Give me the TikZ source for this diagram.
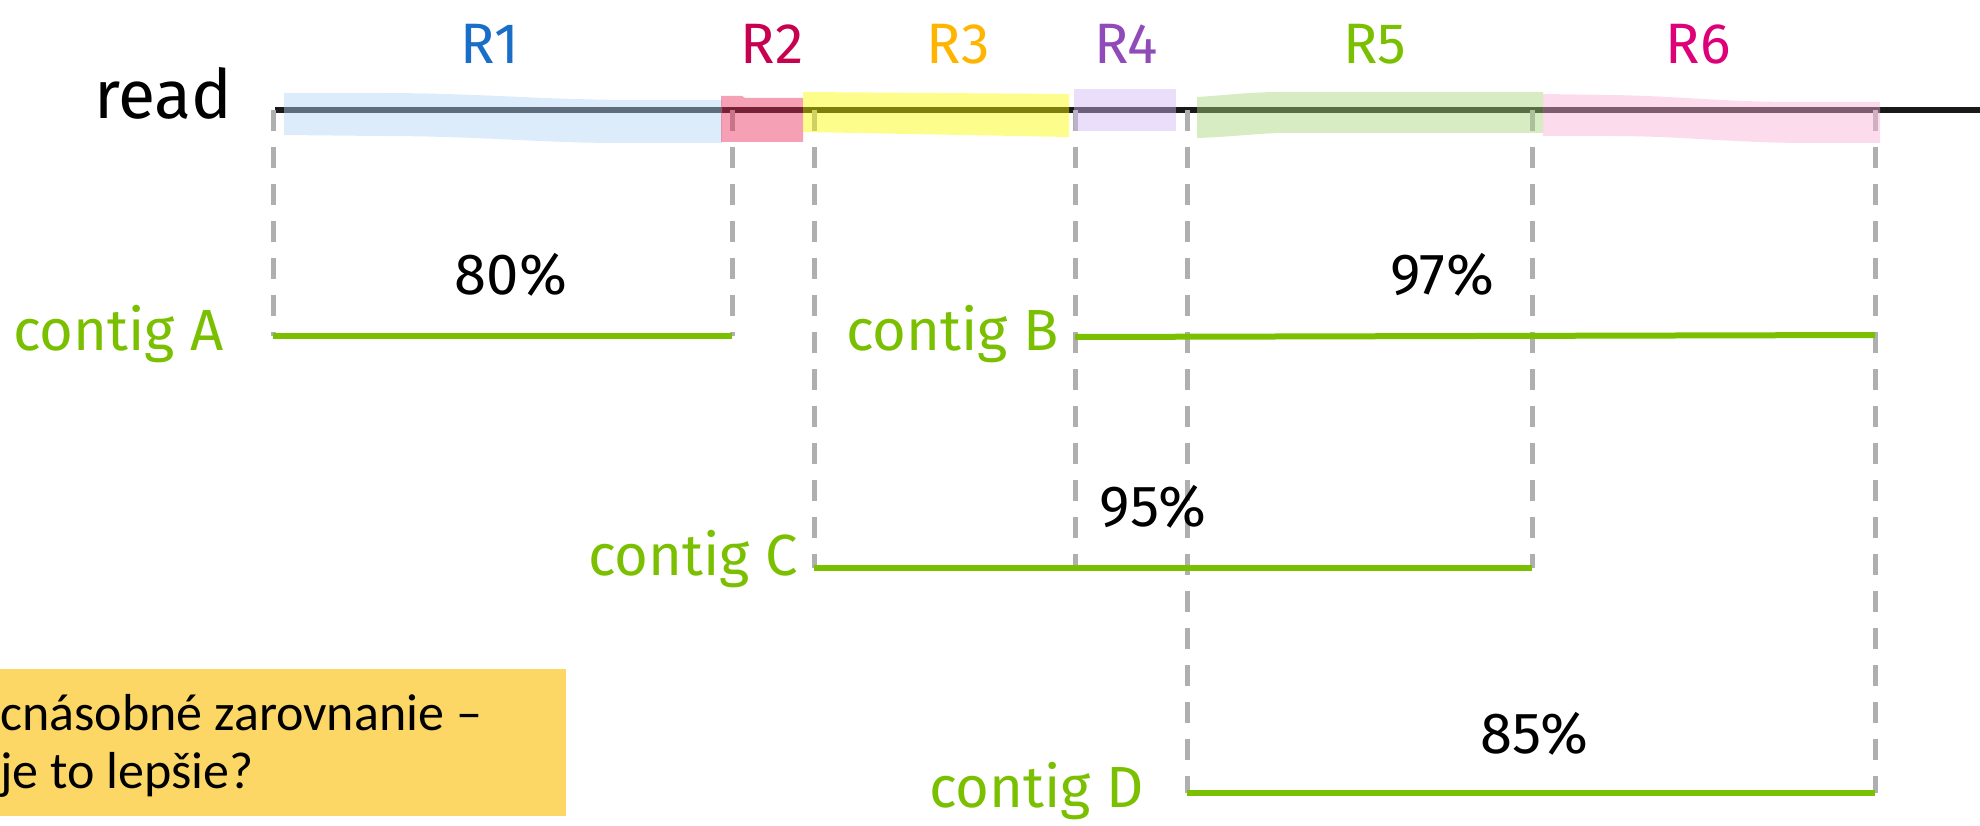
\documentclass[tikz,border=0pt]{standalone}
\usepackage{fontspec}
\setmainfont{Fira Sans}
\newfontfamily\notefont{Carlito}
\definecolor{readline}{RGB}{25,25,25}
\definecolor{guide}{RGB}{175,175,175}
\definecolor{contig}{RGB}{122,192,0}
\definecolor{notebg}{RGB}{252,215,102}
% region label colours
\definecolor{lR1}{RGB}{25,110,200}
\definecolor{lR2}{RGB}{200,0,80}
\definecolor{lR3}{RGB}{255,180,0}
\definecolor{lR4}{RGB}{145,75,185}
\definecolor{lR5}{RGB}{122,192,0}
\definecolor{lR6}{RGB}{222,0,120}
% highlighter colours (used with opacity)
\definecolor{hR1}{RGB}{177,213,246}
\definecolor{hR2}{RGB}{233,44,88}
\definecolor{hR3}{RGB}{250,250,0}
\definecolor{hR4}{RGB}{208,182,244}
\definecolor{hR5}{RGB}{168,213,124}
\definecolor{hR6}{RGB}{248,177,213}
\tikzset{
  hl/.style={fill=#1, fill opacity=0.45, draw=none},
  guideline/.style={draw=guide, line width=5pt, dash pattern=on 21pt off 16pt},
  contigline/.style={draw=contig, line width=6pt},
  rlabel/.style={inner sep=0pt, font=\fontsize{57}{60}\selectfont},
  pct/.style={inner sep=0pt, font=\fontsize{58}{60}\selectfont, text=black},
  clabel/.style={inner sep=0pt, anchor=base west, text=contig, font=\fontsize{58}{62}\selectfont},
  notetext/.style={inner sep=0pt, anchor=base west, font=\notefont\fontsize{52}{58}\selectfont}
}
\begin{document}
\begin{tikzpicture}[x=1pt, y=-1pt]
\useasboundingbox (0,0) rectangle (1980,826);

% read axis
\coordinate (rs) at (275,110);
\coordinate (re) at (1980,110);
\draw[draw=readline, line width=6pt] (rs) -- (re);

% anchor points on the read
\coordinate (tA1) at (273,110);
\coordinate (tA2) at (732,110);
\coordinate (tC1) at (814,110);
\coordinate (tB1) at (1075,110);
\coordinate (tD1) at (1187,110);
\coordinate (tC2) at (1532,110);
\coordinate (tB2) at (1875,110);

% contig end points
\coordinate (a1) at (273,336);
\coordinate (a2) at (732,336);
\coordinate (b1) at (1075,337);
\coordinate (b2) at (1875,335);
\coordinate (c1) at (814,568);
\coordinate (c2) at (1532,568);
\coordinate (d1) at (1187,793);
\coordinate (d2) at (1875,793);
\coordinate (cmid) at (1075,568);

% dashed guides from the read down to the contigs
\draw[guideline] (tA1) -- (a1);
\draw[guideline] (tA2) -- (a2);
\draw[guideline] (tC1) -- (c1);
\draw[guideline] (tB1) -- (cmid);
\draw[guideline] (tD1) -- (d1);
\draw[guideline] (tC2) -- (c2);
\draw[guideline] (tB2) -- (d2);

% highlighted regions on the read
\fill[hl=hR1] (284,93) -- (380,93) .. controls (480,93) and (540,100) .. (640,100) -- (722,100)
  -- (722,143) -- (620,143) .. controls (540,143) and (480,136) .. (380,136) -- (284,135) -- cycle;
\fill[hl=hR2] (721,96) -- (742,96) -- (745,98) -- (803,98) -- (803,142) -- (721,142) -- cycle;
\fill[hl=hR3] (803,92) -- (1069,94) -- (1069,137) -- (803,132) -- cycle;
\fill[hl=hR4] (1074,89) rectangle (1176,131);
\fill[hl=hR5] (1197,97) .. controls (1230,95) and (1250,92) .. (1280,92) -- (1543,92)
  -- (1543,133) -- (1280,133) .. controls (1250,134) and (1230,137) .. (1197,138) -- cycle;
\fill[hl=hR6] (1543,94) -- (1610,95) .. controls (1680,96) and (1720,102) .. (1800,102) -- (1880,102)
  -- (1880,143) -- (1800,143) .. controls (1720,142) and (1680,136) .. (1610,136) -- (1543,136) -- cycle;

% contigs
\draw[contigline] (a1) -- (a2);
\draw[contigline] (b1) -- (b2);
\draw[contigline] (c1) -- (c2);
\draw[contigline] (d1) -- (d2);

% labels
\node[inner sep=0pt, anchor=base west, font=\fontsize{68}{70}\selectfont] (readlbl) at (94,119) {read};
\node[rlabel, text=lR1] (r1) at (490,44) {R1};
\node[rlabel, text=lR2] (r2) at (772,44) {R2};
\node[rlabel, text=lR3] (r3) at (958,44) {R3};
\node[rlabel, text=lR4] (r4) at (1126,44) {R4};
\node[rlabel, text=lR5] (r5) at (1375,44) {R5};
\node[rlabel, text=lR6] (r6) at (1698,44) {R6};

\node[clabel] (la) at (13,350) {contig A};
\node[clabel] (lb) at (846,350) {contig B};
\node[clabel] (lc) at (588,575) {contig C};
\node[clabel] (ld) at (929,807) {contig D};

\node[pct] (pa) at (511,275) {80\%};
\node[pct] (pb) at (1442,275) {97\%};
\node[pct] (pc) at (1153,507) {95\%};
\node[pct] (pd) at (1534,734) {85\%};

% note box
\fill[notebg] (0,669) rectangle (566,816);
\node[notetext] (note1) at (0,730) {cnásobné zarovnanie –};
\node[notetext] (note2) at (0,788) {je to lepšie?};
\end{tikzpicture}
\end{document}
